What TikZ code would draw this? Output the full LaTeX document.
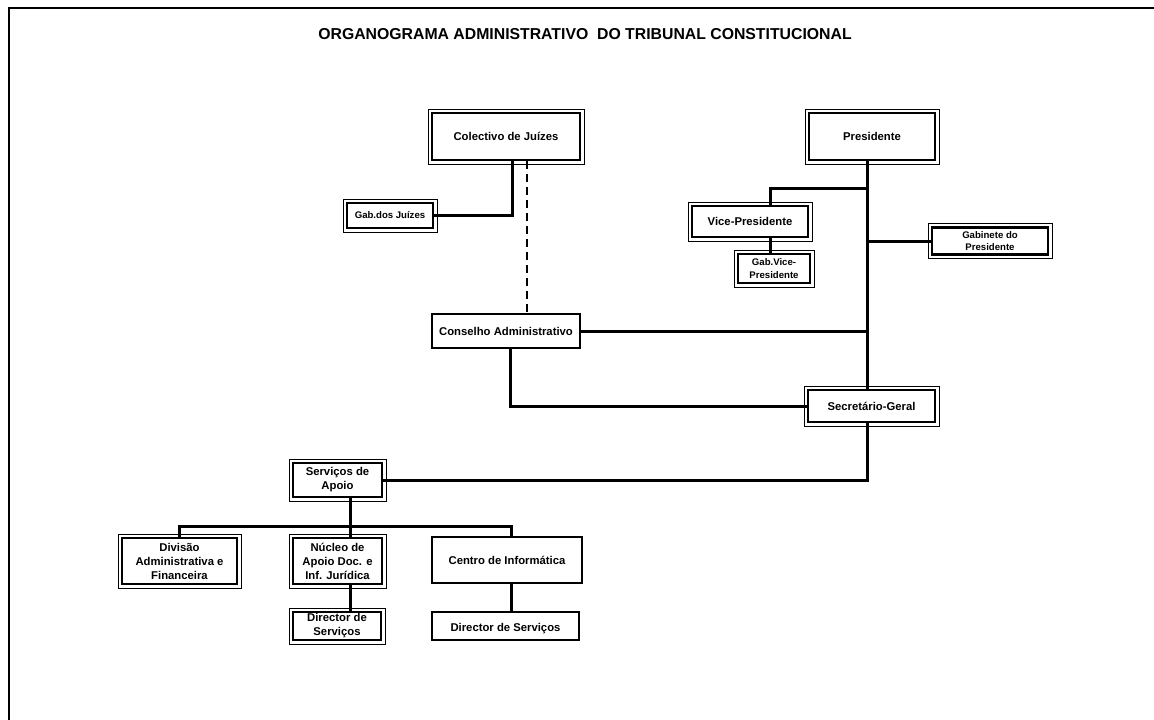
\documentclass[tikz,border=0pt]{standalone}
\usepackage{fontspec}
\setmainfont{Liberation Sans}
\tikzset{
  orgbox/.style={draw, line width=2.8pt, fill=white, align=center, inner sep=1pt,
    font=\bfseries\fontsize{11.3}{14}\selectfont},
  smallbox/.style={orgbox, font=\bfseries\fontsize{9.6}{12.5}\selectfont},
}
\begin{document}
\begin{tikzpicture}[x=1pt, y=-1pt, line width=3pt]
\useasboundingbox (0,0) rectangle (1154,720);
% frame
\draw[line width=2pt] (1154,8) -- (9,8) -- (9,720);
\node[font=\bfseries\fontsize{15.8}{17}\selectfont] (title) at (585,34) {ORGANOGRAMA ADMINISTRATIVO \ DO TRIBUNAL CONSTITUCIONAL};

% boxes
\node[orgbox, minimum width=148, minimum height=47] (colect) at (506,136.5) {Colectivo de Juízes};
\node[orgbox, minimum width=126, minimum height=47] (pres) at (872,136.5) {Presidente};
\node[smallbox, minimum width=86, minimum height=25] (gabjuiz) at (390,215.5) {Gab.dos Juízes};
\node[orgbox, minimum width=116, minimum height=31] (vice) at (750,221.5) {Vice-Presidente};
\node[smallbox, minimum width=72, minimum height=29] (gabvice) at (774,268.5) {Gab.Vice-\\Presidente};
\node[smallbox, minimum width=116, minimum height=27] (gabpres) at (990,241) {Gabinete do\\Presidente};
\node[orgbox, minimum width=148, minimum height=34] (consel) at (506,331) {Conselho Administrativo};
\node[orgbox, minimum width=127, minimum height=32] (secr) at (871.5,406) {Secretário-Geral};
\node[orgbox, minimum width=89, minimum height=34] (serv) at (337.5,480) {Serviços de\\Apoio};
\node[orgbox, minimum width=115, minimum height=46] (divis) at (179.5,561) {Divisão\\Administrativa e\\Financeira};
\node[orgbox, minimum width=89, minimum height=46] (nucleo) at (337.5,561) {Núcleo de\\Apoio Doc. e\\Inf. Jurídica};
\node[orgbox, minimum width=150, minimum height=46] (centro) at (507,560) {Centro de Informática};
\node[orgbox, minimum width=88, minimum height=28] (dirL) at (337,626) {Director de\\Serviços};
\node[orgbox, minimum width=147, minimum height=28] (dirR) at (505.5,626) {\mbox{}\\Director de Serviços};

% thin outer lines of the double boxes
\foreach \n in {colect,pres,gabjuiz,vice,gabvice,gabpres,secr,serv,divis,nucleo,dirL}
  \draw[line width=1pt] ([shift={(-2.6pt,2.6pt)}]\n.north west) rectangle ([shift={(2.6pt,-2.6pt)}]\n.south east);

% connectors
\coordinate (tr) at (867,0);
\coordinate (jv) at (867,188);
\coordinate (bus) at (0,526);
\coordinate (cb) at ([xshift=4pt]centro.north);
\draw ([xshift=6pt]colect.south) |- (gabjuiz);
\draw[dashed, line width=1.8pt, dash pattern=on 8pt off 5pt] ([xshift=21pt]colect.south) -- ([xshift=21pt]consel.north);
\draw (pres.south -| tr) -- (secr.north -| tr);
\draw (jv) -| ([xshift=20pt]vice.north);
\draw ([xshift=20pt]vice.south) -- ([xshift=-4pt]gabvice.north);
\draw (gabpres.west -| tr) -- (gabpres.west);
\draw (consel.east) -- (consel.east -| tr);
\draw ([xshift=4pt]consel.south) |- (secr.west);
\draw (secr.south -| tr) |- (serv.east);
\draw ([xshift=13pt]serv.south) -- ([xshift=13pt]nucleo.north);
\draw (divis.north) |- (bus -| cb) -- (cb);
\draw ([xshift=13pt]nucleo.south) -- ([xshift=13.5pt]dirL.north);
\draw ([xshift=4pt]centro.south) -- ([xshift=5.5pt]dirR.north);
\end{tikzpicture}
\end{document}
